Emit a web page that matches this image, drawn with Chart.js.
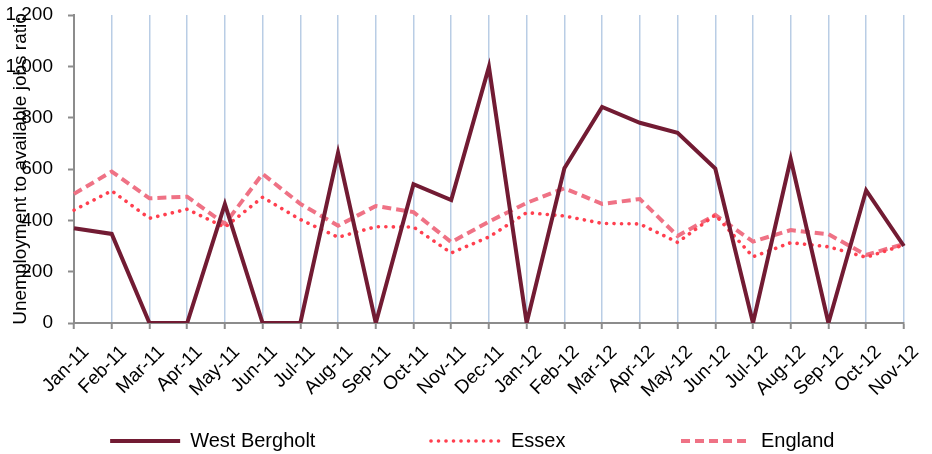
<!DOCTYPE html>
<html>
<head>
<meta charset="utf-8">
<title>Unemployment to available jobs ratio</title>
<script src="https://cdn.jsdelivr.net/npm/chart.js@4/dist/chart.umd.min.js"></script>
<style>
    html, body { margin: 0; padding: 0; background: #fff; }
    #wrap { width: 932px; height: 454px; }
</style>
</head>
<body>
<div id="wrap"><canvas id="ratioChart"></canvas></div>
<script>
/**
 * Unemployment to available jobs ratio - West Bergholt vs Essex vs England
 */

const months = ['Jan-11', 'Feb-11', 'Mar-11', 'Apr-11', 'May-11', 'Jun-11', 'Jul-11', 'Aug-11', 'Sep-11', 'Oct-11', 'Nov-11', 'Dec-11',
    'Jan-12', 'Feb-12', 'Mar-12', 'Apr-12', 'May-12', 'Jun-12', 'Jul-12', 'Aug-12', 'Sep-12', 'Oct-12', 'Nov-12'];

const westBergholt = [369, 347, 0, 0, 463, 0, 0, 663, 0, 541, 479, 998, 0, 603, 842, 780, 741, 602, 0, 639, 0, 517, 300];
const essex = [440, 515, 408, 443, 373, 490, 403, 334, 375, 374, 273, 335, 430, 417, 388, 386, 314, 421, 258, 313, 297, 256, 304];
const england = [503, 590, 486, 492, 386, 581, 464, 379, 456, 432, 315, 395, 468, 525, 464, 483, 339, 421, 317, 362, 346, 265, 308];

const yTicks = [0, 200, 400, 600, 800, 1000, 1200];

const FONT = "'Liberation Sans', Arial, sans-serif";

// legend samples should use the dataset's own dash pattern
function legendLabels(chart) {
    const base = Chart.defaults.plugins.legend.labels.generateLabels(chart);
    return base.map((item, i) => {
        const ds = chart.data.datasets[i];
        return Object.assign(item, {
            lineDash: ds.borderDash || [],
            lineCap: ds.borderCapStyle || 'butt',
            lineWidth: ds.borderWidth,
            strokeStyle: ds.borderColor
        });
    });
}

function initRatioChart() {
    const ctx = document.getElementById('ratioChart');
    if (!ctx) return;

    new Chart(ctx.getContext('2d'), {
        type: 'line',
        data: {
            labels: months,
            datasets: [{
                // trailing spaces only widen the legend item
                label: 'West Bergholt' + '\u00a0'.repeat(19),
                data: westBergholt,
                borderColor: '#721b33',
                borderWidth: 4,
                borderJoinStyle: 'miter',
                pointRadius: 0,
                tension: 0
            }, {
                label: 'Essex' + '\u00a0'.repeat(19),
                data: essex,
                borderColor: '#ff3f4f',
                borderWidth: 3.6,
                borderDash: [0.1, 7.4],
                borderCapStyle: 'round',
                pointRadius: 0,
                tension: 0
            }, {
                label: 'England' + '\u00a0'.repeat(6),
                data: england,
                borderColor: '#ef7285',
                borderWidth: 4,
                borderDash: [9, 5],
                pointRadius: 0,
                tension: 0
            }]
        },
        options: {
            responsive: true,
            maintainAspectRatio: false,
            animation: false,
            layout: { padding: { top: 0, right: 19, bottom: 0, left: 0 } },
            plugins: {
                tooltip: { enabled: false },
                legend: {
                    position: 'bottom',
                    fullSize: false,
                    maxHeight: 33,
                    labels: {
                        usePointStyle: true,
                        pointStyle: 'line',
                        pointStyleWidth: 70,
                        padding: 10,
                        color: '#000',
                        font: { family: FONT, size: 20 },
                        generateLabels: legendLabels
                    }
                }
            },
            scales: {
                x: {
                    offset: false,
                    afterFit: scale => { scale.height = 98; },
                    grid: {
                        color: '#b9cde5',
                        lineWidth: 1.5,
                        tickColor: '#8c8c8c',
                        tickLength: 6,
                        tickWidth: 2
                    },
                    border: { color: '#8c8c8c', width: 2 },
                    ticks: {
                        autoSkip: false,
                        minRotation: 45,
                        maxRotation: 45,
                        labelOffset: 12,
                        padding: 12,
                        color: '#000',
                        font: { family: FONT, size: 19 }
                    }
                },
                y: {
                    min: 0,
                    max: 1200,
                    afterFit: scale => {
                        scale.width = 74;
                        scale.paddingTop = 15;
                    },
                    afterBuildTicks: scale => { scale.ticks = yTicks.map(v => ({ value: v })); },
                    grid: {
                        drawOnChartArea: false,
                        tickColor: '#8c8c8c',
                        tickLength: 6,
                        tickWidth: 2
                    },
                    border: { color: '#8c8c8c', width: 2 },
                    ticks: {
                        padding: 15,
                        color: '#000',
                        font: { family: FONT, size: 19 },
                        callback: value => value.toLocaleString('en-GB')
                    },
                    title: {
                        display: true,
                        text: 'Unemployment to available jobs ratio',
                        color: '#000',
                        font: { family: FONT, size: 19, lineHeight: 1.2 },
                        padding: { top: 9, bottom: 0 }
                    }
                }
            }
        }
    });
}

initRatioChart();
</script>
</body>
</html>
